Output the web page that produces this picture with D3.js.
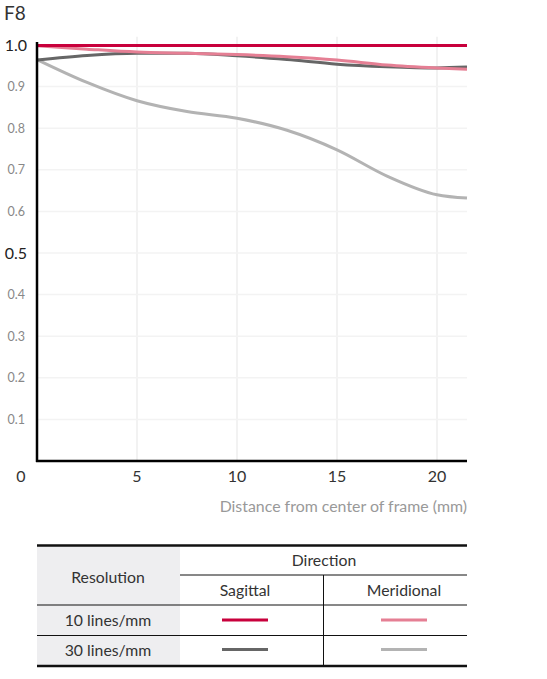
<!DOCTYPE html>
<html>
    <head>
        <meta charset="utf-8" />
        <title>MTF F8</title>
        <script src="https://d3js.org/d3.v7.min.js"></script>
        <style>
            body { margin: 0; background: white; }
            text { font-family: Lato, "Open Sans", sans-serif; }
        </style>
    </head>
    <body>
        <svg width="547" height="679" id="chart"></svg>

        <script>
            // distance from center of frame (mm)
            var distances = [0, 2.5, 5, 7.5, 10, 12.5, 15, 17.5, 20, 21.5];

            // mtf values
            var sagittal10   = [0.999, 0.999, 0.999, 0.999, 0.999, 0.999, 0.999, 0.999, 0.999, 0.999];
            var meridional10 = [0.998, 0.990, 0.983, 0.980, 0.977, 0.972, 0.964, 0.952, 0.945, 0.942];
            var sagittal30   = [0.964, 0.975, 0.980, 0.980, 0.974, 0.965, 0.954, 0.948, 0.945, 0.947];
            var meridional30 = [0.965, 0.910, 0.866, 0.840, 0.824, 0.795, 0.748, 0.685, 0.640, 0.632];

            var xTicks = [5, 10, 15, 20];
            var yTicks = [0.1, 0.2, 0.3, 0.4, 0.5, 0.6, 0.7, 0.8, 0.9, 1.0];
            var bigTicks = [0.5, 1.0];

            var series = [
                { name: "30 meridional", values: meridional30, color: "#b3b3b3" },
                { name: "30 sagittal", values: sagittal30, color: "#666666" },
                { name: "10 meridional", values: meridional10, color: "#e57f94" },
                { name: "10 sagittal", values: sagittal10, color: "#c8003c" }
            ];

            var svg = d3.select("#chart");

            var x = d3.scaleLinear().domain([0, 21.5]).range([37, 467]);
            var y = d3.scaleLinear().domain([0, 1]).range([461, 45]);

            // title
            svg.append("text")
                .attr("x", 4).attr("y", 20)
                .attr("font-size", 19)
                .attr("fill", "#333")
                .text("F8");

            // grid lines
            svg.append("g").selectAll("line.vg")
                .data(xTicks)
                .join("line")
                .attr("x1", d => x(d)).attr("x2", d => x(d))
                .attr("y1", y(1.02)).attr("y2", y(0))
                .attr("stroke", "#eeeeee").attr("stroke-width", 1.5);

            svg.append("g").selectAll("line.hg")
                .data(yTicks.filter(d => d < 1))
                .join("line")
                .attr("x1", x(0)).attr("x2", x(21.5))
                .attr("y1", d => y(d)).attr("y2", d => y(d))
                .attr("stroke", "#f3f3f3").attr("stroke-width", 1.5);

            // y tick labels
            svg.append("g").selectAll("text")
                .data(yTicks)
                .join("text")
                .attr("x", d => bigTicks.includes(d) ? 27 : 25)
                .attr("y", d => y(d))
                .attr("dy", "0.35em")
                .attr("text-anchor", "end")
                .attr("font-size", d => bigTicks.includes(d) ? 16 : 12.5)
                .attr("fill", d => bigTicks.includes(d) ? "#222" : "#888")
                .text(d => d3.format(".1f")(d));

            // x tick labels (0 sits left of the axis corner)
            svg.append("g").selectAll("text")
                .data(xTicks)
                .join("text")
                .attr("x", d => x(d))
                .attr("y", 476)
                .attr("dy", "0.35em")
                .attr("text-anchor", "middle")
                .attr("font-size", 16)
                .attr("fill", "#333")
                .text(d => d);

            svg.append("text")
                .attr("x", 21).attr("y", 476).attr("dy", "0.35em")
                .attr("text-anchor", "middle")
                .attr("font-size", 16).attr("fill", "#333")
                .text("0");

            svg.append("text")
                .attr("x", 467).attr("y", 506).attr("dy", "0.35em")
                .attr("text-anchor", "end")
                .attr("font-size", 15.9).attr("fill", "#999")
                .text("Distance from center of frame (mm)");

            // curves
            var line = d3.line()
                .x((d, i) => x(distances[i]))
                .y(d => y(d))
                .curve(d3.curveMonotoneX);

            svg.append("g").selectAll("path")
                .data(series)
                .join("path")
                .attr("d", d => line(d.values))
                .attr("fill", "none")
                .attr("stroke", d => d.color)
                .attr("stroke-width", 3);

            // axes lines
            svg.append("line")
                .attr("x1", x(0)).attr("x2", x(0))
                .attr("y1", 42).attr("y2", y(0) + 1)
                .attr("stroke", "black").attr("stroke-width", 2.5);
            svg.append("line")
                .attr("x1", x(0) - 1).attr("x2", x(21.5))
                .attr("y1", y(0)).attr("y2", y(0))
                .attr("stroke", "black").attr("stroke-width", 2.5);

            // legend table
            var table = svg.append("g");

            table.append("rect")
                .attr("x", 37).attr("y", 546)
                .attr("width", 143).attr("height", 119)
                .attr("fill", "#eeeef0");

            function hline(x1, x2, yy, w) {
                table.append("line")
                    .attr("x1", x1).attr("x2", x2)
                    .attr("y1", yy).attr("y2", yy)
                    .attr("stroke", "#111").attr("stroke-width", w);
            }
            hline(37, 467, 545.5, 2.5);
            hline(180, 467, 575, 1);
            hline(37, 467, 605, 1);
            hline(37, 467, 635.5, 1);
            hline(37, 467, 666, 2.5);

            table.append("line")
                .attr("x1", 323.5).attr("x2", 323.5)
                .attr("y1", 575).attr("y2", 665)
                .attr("stroke", "#111").attr("stroke-width", 1);

            function cell(cx, cy, txt) {
                table.append("text")
                    .attr("x", cx).attr("y", cy).attr("dy", "0.35em")
                    .attr("text-anchor", "middle")
                    .attr("font-size", 15.8).attr("fill", "#333")
                    .text(txt);
            }
            cell(108, 577, "Resolution");
            cell(324, 560, "Direction");
            cell(245, 590, "Sagittal");
            cell(404, 590, "Meridional");
            cell(108, 620, "10 lines/mm");
            cell(108, 650, "30 lines/mm");

            // swatches
            var swatches = [
                { color: series[3].color, cx: 245, cy: 620 },
                { color: series[2].color, cx: 404, cy: 620 },
                { color: series[1].color, cx: 245, cy: 649.5 },
                { color: series[0].color, cx: 404, cy: 649.5 }
            ];
            table.selectAll("line.sw")
                .data(swatches)
                .join("line")
                .attr("class", "sw")
                .attr("x1", d => d.cx - 23).attr("x2", d => d.cx + 23)
                .attr("y1", d => d.cy).attr("y2", d => d.cy)
                .attr("stroke", d => d.color)
                .attr("stroke-width", 3);
        </script>
    </body>
</html>
